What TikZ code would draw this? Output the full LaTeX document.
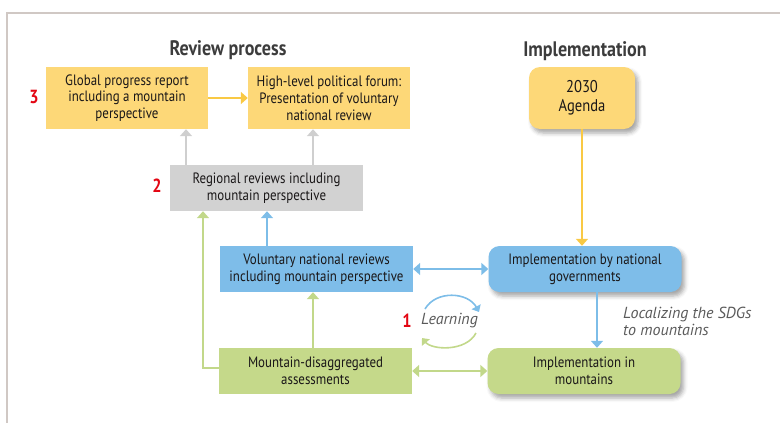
\documentclass[tikz,border=0pt]{standalone}
\usepackage{fontspec}
\setmainfont{PT Sans}[FakeStretch=0.86]
\newfontfamily\wideit{PT Sans}
\usetikzlibrary{arrows.meta,shadows.blur}
\definecolor{framecol}{HTML}{D0C8C4}
\definecolor{yfill}{HTML}{FDD878}
\definecolor{yline}{HTML}{F9C944}
\definecolor{gfill}{HTML}{D2D2D2}
\definecolor{gline}{HTML}{CFCFCF}
\definecolor{bfill}{HTML}{7EBDE9}
\definecolor{bline}{HTML}{7DBDE8}
\definecolor{lfill}{HTML}{C5D98A}
\definecolor{lline}{HTML}{C2D88A}
\definecolor{txt}{HTML}{1A1718}
\definecolor{title}{HTML}{3C3C3C}
\definecolor{numred}{HTML}{E30613}
\definecolor{itgray}{HTML}{5A5A5A}
\begin{document}
\begin{tikzpicture}[x=1pt,y=-1pt,
  boxtext/.style={align=center, text=txt, inner sep=0pt,
    font=\fontsize{15}{16.8}\selectfont},
  sqbox/.style={boxtext, rectangle, minimum width=193, minimum height=46},
  rbox/.style={boxtext, rectangle, rounded corners=11pt, minimum width=193, minimum height=46,
    blur shadow={shadow xshift=3pt, shadow yshift=-4pt, shadow blur radius=4pt, shadow opacity=35}},
  conn/.style={line width=2pt, -{Triangle[width=12pt,length=7pt]}},
  dconn/.style={line width=2pt, {Triangle[width=12pt,length=7pt]}-{Triangle[width=12pt,length=7pt]}},
  heading/.style={font=\fontsize{21}{23}\selectfont\bfseries, text=title},
  num/.style={font=\fontsize{19}{21}\selectfont\bfseries, text=numred},
  itlabel/.style={font=\wideit\itshape\fontsize{16}{17}\selectfont, text=itgray, align=left, inner sep=0pt}
]
\useasboundingbox (0,0) rectangle (780,423);
\draw[framecol, line width=1.5pt] (7,423) -- (7,13) -- (780,13);

\node[heading] (hrev) at (228,50) {Review process};
\node[heading] (himp) at (585,51) {Implementation};

\node[sqbox, fill=yfill, minimum width=162, minimum height=62] (gpr) at (127,98)
  {Global progress report\\including a mountain\\perspective};
\node[sqbox, fill=yfill, minimum width=162, minimum height=62] (hlpf) at (329,98)
  {High-level political forum:\\Presentation of voluntary\\national review};
\node[rbox, fill=yfill, minimum width=106, minimum height=62, font=\fontsize{17}{19}\selectfont] (agenda) at (582,98)
  {2030\\Agenda};

\node[sqbox, fill=gfill] (reg) at (266.5,188) {Regional reviews including\\mountain perspective};
\node[sqbox, fill=bfill] (vnr) at (316.5,269) {Voluntary national reviews\\including mountain perspective};
\node[sqbox, fill=lfill] (mda) at (315.5,371) {Mountain-disaggregated\\assessments};
\node[rbox, fill=bfill] (implnat) at (585,269) {Implementation by national\\governments};
\node[rbox, fill=lfill] (implmtn) at (584,371) {Implementation in\\mountains};

\node[num] (n3) at (34,97) {3};
\node[num] (n2) at (157,186) {2};
\node[num] (n1) at (407,321) {1};
\node[itlabel, anchor=west] (learn) at (421,321) {Learning};
\node[itlabel, anchor=west] (local) at (623,321) {Localizing the SDGs\\to mountains};

% connectors
\draw[conn, yline] (gpr) -- (hlpf);
\draw[conn, gline] (186,0 |- reg.north) -- (186,0 |- gpr.south);
\draw[conn, gline] (313,0 |- reg.north) -- (313,0 |- hlpf.south);
\draw[conn, bline] (267,0 |- vnr.north) -- (267,0 |- reg.south);
\draw[conn, lline] (mda.west |- 0,368) -| (203,0 |- reg.south);
\draw[conn, lline] (313,0 |- mda.north) -- (313,0 |- vnr.south);
\draw[dconn, bline] (vnr) -- (implnat);
\draw[dconn, lline] (mda) -- (implmtn);
\draw[conn, yline] (agenda.south) -- (agenda.south |- implnat.north);
\draw[conn, bline] (597,0 |- implnat.south) -- (597,0 |- implmtn.north);

% learning cycle
\draw[bline, line width=1.6pt, -{Triangle[width=10pt,length=6pt]}]
  (425,309) .. controls (436,290) and (468,292) .. (479,312);
\draw[lline, line width=1.6pt, -{Triangle[width=10pt,length=6pt]}]
  (476,333) .. controls (466,352) and (432,350) .. (422,338);
\end{tikzpicture}
\end{document}
